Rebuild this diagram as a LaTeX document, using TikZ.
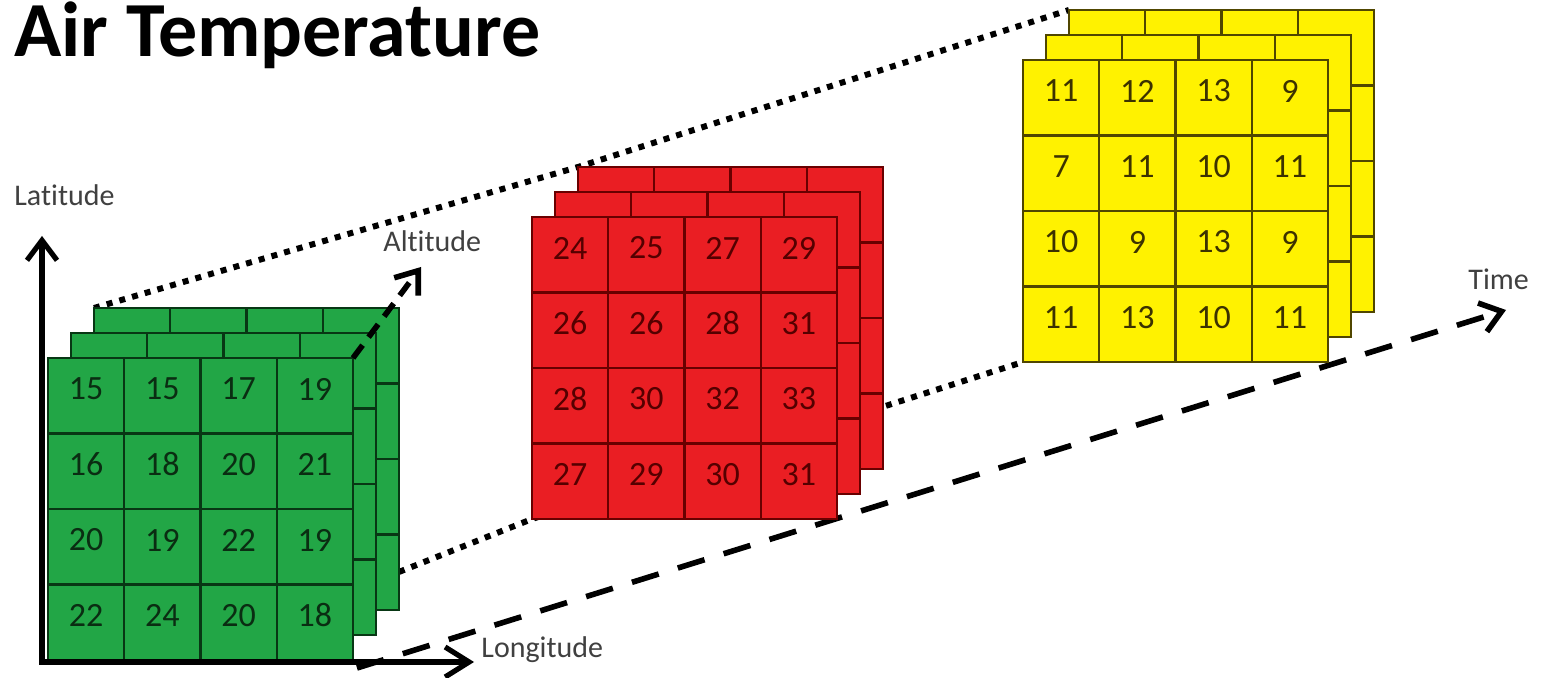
\documentclass[tikz,border=0pt]{standalone}
\usepackage{fontspec}
\setmainfont{Carlito}[Ligatures=NoCommon]
\usetikzlibrary{arrows.meta,calc}
\pgfdeclarelayer{bg}
\pgfsetlayers{bg,main}
\definecolor{gfill}{RGB}{34,166,70}
\definecolor{gline}{RGB}{8,55,20}
\definecolor{gtext}{RGB}{10,45,18}
\definecolor{rfill}{RGB}{234,30,35}
\definecolor{rline}{RGB}{105,0,0}
\definecolor{rtext}{RGB}{85,0,0}
\definecolor{yfill}{RGB}{255,242,0}
\definecolor{yline}{RGB}{80,70,0}
\definecolor{ytext}{RGB}{60,50,0}
\definecolor{lblgray}{RGB}{64,64,64}

\newcommand{\gridlayer}[5]{%
  \filldraw[fill=#4,draw=#5,line width=1.2pt] (#2,#3) rectangle ++(305,302);
  \foreach \k in {1,2,3}{
    \draw[#5,line width=1.2pt] ({#2+\k*76.25},{#3}) -- ++(0,302);
    \draw[#5,line width=1.2pt] ({#2},{#3+\k*75.5}) -- ++(305,0);
  }
  \coordinate (#1-tl) at ({#2},{#3});
  \coordinate (#1-bl) at ({#2},{#3+302});
  \coordinate (#1-tr) at ({#2+305},{#3});
  \coordinate (#1-br) at ({#2+305},{#3+302});
}
\newcommand{\datacube}[7]{%
  \gridlayer{#1-b}{#2+46}{#3-50}{#4}{#5}
  \gridlayer{#1-m}{#2+23}{#3-25}{#4}{#5}
  \gridlayer{#1-f}{#2}{#3}{#4}{#5}
  \foreach \v [count=\i from 0] in {#7}{
    \pgfmathtruncatemacro{\rr}{int(\i/4)}
    \pgfmathtruncatemacro{\cc}{mod(\i,4)}
    \node[cellnum,text=#6] (#1-\rr-\cc) at ({#2+38.1+\cc*76.25},{#3+31+\rr*75.5}) {\v};
  }
}

\begin{document}
\begin{tikzpicture}[x=0.5pt,y=-0.5pt,
  cellnum/.style={font=\fontsize{17}{18}\selectfont, inner sep=0pt},
  axlabel/.style={font=\fontsize{15}{17}\selectfont, text=lblgray, inner sep=0pt},
  barb/.style={-{Straight Barb[length=10pt,width=15pt]}},
  axisline/.style={line width=2.6pt, line join=miter},
  dotline/.style={line width=3pt, dash pattern=on 3pt off 3.6pt},
  timeline/.style={line width=2.8pt, dash pattern=on 14pt off 10pt, barb},
  altline/.style={line width=2.8pt, dash pattern=on 8pt off 5pt, barb}
]
\useasboundingbox (0,0) rectangle (1546,678);

\node[font=\fontsize{39}{42}\bfseries, anchor=base west, inner sep=0pt] (title) at (14,57) {Air Temperature};

\datacube{g}{48}{358}{gfill}{gline}{gtext}{15,15,17,19,16,18,20,21,20,19,22,19,22,24,20,18}
\datacube{r}{532}{217}{rfill}{rline}{rtext}{24,25,27,29,26,26,28,31,28,30,32,33,27,29,30,31}
\datacube{y}{1023}{60}{yfill}{yline}{ytext}{11,12,13,9,7,11,10,11,10,9,13,9,11,13,10,11}

\coordinate (O) at (42,662);
\coordinate (latTip) at (42,236);
\coordinate (lonTip) at (474,662);
\coordinate (altTip) at (421,267);
\coordinate (timeStart) at ($(g-f-br)+(4,8)$);
\coordinate (timeTip) at (1506,310);
\coordinate (gdot) at ($(g-b-tr)!0.874!(g-b-br)$);

\begin{pgfonlayer}{bg}
  \draw[dotline] (g-b-tl) -- (r-b-tl) -- (y-b-tl);
  \draw[dotline] (gdot) -- (r-f-bl) -- (y-f-bl);
  \draw[timeline] (timeStart) -- (timeTip);
\end{pgfonlayer}

\draw[axisline, {Straight Barb[length=10pt,width=15pt]}-{Straight Barb[length=12pt,width=15pt]}] (latTip) -- (O) -- (lonTip);
\draw[altline] (g-f-tr) -- (altTip);

\node[axlabel, anchor=west] (lat) at (14,195) {Latitude};
\node[axlabel, anchor=west] (alt) at (383,241) {Altitude};
\node[axlabel, anchor=west] (lon) at (481,650) {Longitude};
\node[axlabel, anchor=west] (time) at (1468,279) {Time};
\end{tikzpicture}
\end{document}
